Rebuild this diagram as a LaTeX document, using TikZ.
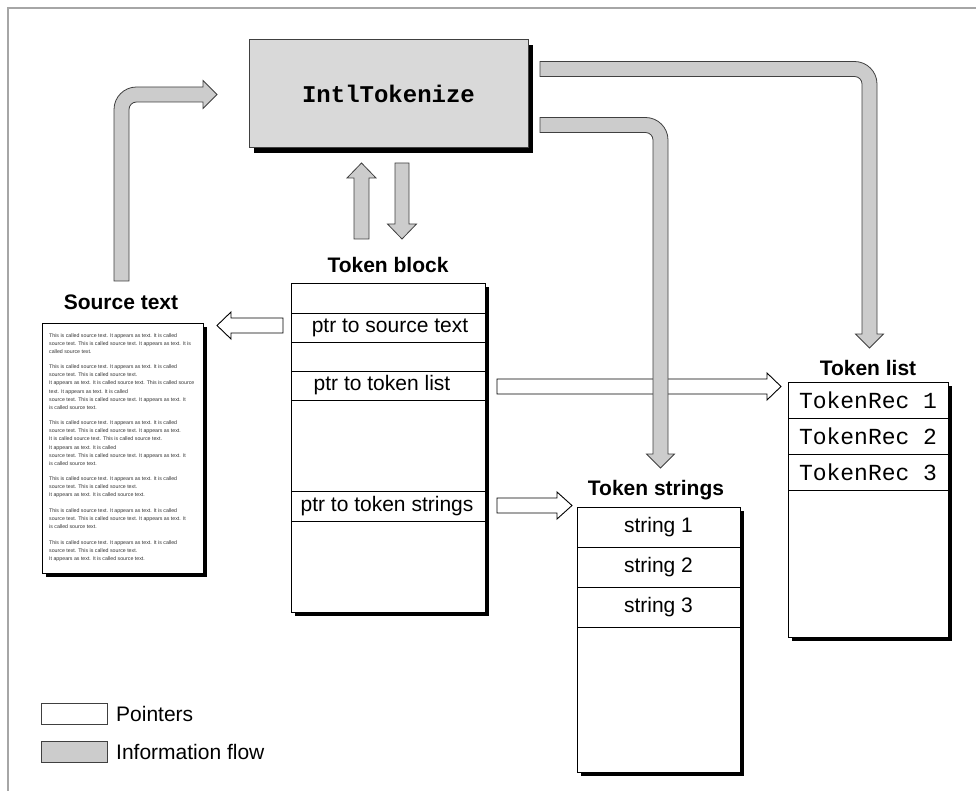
\documentclass[tikz,border=0pt]{standalone}
\usepackage{fontspec}
\setmainfont{Liberation Sans}
\newfontfamily\monofont{Liberation Mono}
\definecolor{flow}{HTML}{CCCCCC}
\definecolor{boxgray}{HTML}{D9D9D9}
\definecolor{edge}{HTML}{404040}
\begin{document}
\begin{tikzpicture}[x=1pt,y=-1pt,
  lbl/.style={font=\fontsize{21}{25}\selectfont\bfseries, inner sep=0},
  rowtxt/.style={font=\fontsize{21}{25}\selectfont, inner sep=0},
  mrow/.style={font=\fontsize{23}{27}\selectfont\monofont, inner sep=0},
  ptr/.style={fill=white, draw=black, line width=0.9pt, line join=miter},
  flowarrow/.style={fill=flow, draw=edge, line width=0.8pt, line join=miter},
  boxline/.style={draw=black, line width=0.9pt},
  shadowfill/.style={fill=black}]
\useasboundingbox (0,0) rectangle (976,791);
\fill[white] (0,0) rectangle (976,791);
% frame
\draw[gray!70, line width=1.5pt] (8,791) -- (8,8) -- (976,8);

% IntlTokenize
\fill[shadowfill] (254,45) rectangle (533,153);
\filldraw[fill=boxgray, draw=edge, line width=1pt] (249,40) rectangle (528,148);
\node[font=\fontsize{24}{28}\selectfont\monofont\bfseries, inner sep=0] (intl) at (388.5,94) {IntlTokenize};

% Source text
\node[lbl] (srclbl) at (121,302) {Source text};
\fill[shadowfill] (46,327) rectangle (207,577);
\filldraw[fill=white, boxline] (42,323) rectangle (203,573);
\node[anchor=north west, inner sep=0, align=left, font=\fontsize{5.25}{8.1}\selectfont, text=black!80] (srctxt) at (49,333)
{This is called source text. It appears as text. It is called\\
source text. This is called source text. It appears as text. It is\\
called source text.\\[7.4pt]
This is called source text. It appears as text. It is called\\
source text. This is called source text.\\
It appears as text. It is called source text. This is called source\\
text. It appears as text. It is called\\
source text. This is called source text. It appears as text. It\\
is called source text.\\[7.4pt]
This is called source text. It appears as text. It is called\\
source text. This is called source text. It appears as text.\\
It is called source text. This is called source text.\\
It appears as text. It is called\\
source text. This is called source text. It appears as text. It\\
is called source text.\\[7.4pt]
This is called source text. It appears as text. It is called\\
source text. This is called source text.\\
It appears as text. It is called source text.\\[7.4pt]
This is called source text. It appears as text. It is called\\
source text. This is called source text. It appears as text. It\\
is called source text.\\[7.4pt]
This is called source text. It appears as text. It is called\\
source text. This is called source text.\\
It appears as text. It is called source text.};

% Token block
\node[lbl] (tblbl) at (388,265) {Token block};
\fill[shadowfill] (295,287) rectangle (489,616);
\filldraw[fill=white, boxline] (291,283) rectangle (485,612);
\foreach \yy in {313,342,371,400,491,521} \draw[boxline] (291,\yy) -- (485,\yy);
\node[rowtxt] (p1) at (390,327.5) {ptr to source text};
\node[rowtxt] (p2) at (382,385.5) {ptr to token list};
\node[rowtxt] (p3) at (387,506) {ptr to token strings};

% Token strings
\node[lbl] (tslbl) at (656,490) {Token strings};
\fill[shadowfill] (581,511) rectangle (744,776);
\filldraw[fill=white, boxline] (577,507) rectangle (740,772);
\foreach \yy in {547,587,627} \draw[boxline] (577,\yy) -- (740,\yy);
\node[rowtxt] (s1) at (658.5,527) {string 1};
\node[rowtxt] (s2) at (658.5,567) {string 2};
\node[rowtxt] (s3) at (658.5,607) {string 3};

% Token list
\node[lbl] (tllbl) at (868,368) {Token list};
\fill[shadowfill] (792,386) rectangle (952,641);
\filldraw[fill=white, boxline] (788,382) rectangle (948,637);
\foreach \yy in {418,454,490} \draw[boxline] (788,\yy) -- (948,\yy);
\node[mrow] (t1) at (868,400) {TokenRec 1};
\node[mrow] (t2) at (868,436) {TokenRec 2};
\node[mrow] (t3) at (868,472) {TokenRec 3};

% pointer arrows (white)
\draw[ptr] (283,318) -- (231,318) -- (231,312) -- (217,325.5) -- (231,339) -- (231,333) -- (283,333) -- cycle;
\draw[ptr] (497,379) -- (767,379) -- (767,373) -- (781,386.5) -- (767,400) -- (767,394) -- (497,394) -- cycle;
\draw[ptr] (497,498) -- (557,498) -- (557,492) -- (572,505.5) -- (557,519) -- (557,513) -- (497,513) -- cycle;

% information flow arrows (gray)
% A: source text -> IntlTokenize
\draw[flowarrow] (114,281) -- (114,109.5) .. controls (114,97.07) and (124.07,87) .. (136.5,87)
  -- (203,87) -- (203,80.5) -- (217,94.5) -- (203,108.5) -- (203,102) -- (136.5,102)
  .. controls (132.36,102) and (129,105.36) .. (129,109.5) -- (129,281) -- cycle;
% B: IntlTokenize -> Token list
\draw[flowarrow] (540,61.5) -- (854.5,61.5) .. controls (866.93,61.5) and (877,71.57) .. (877,84)
  -- (877,334) -- (883.5,334) -- (869.5,348) -- (855.5,334) -- (862,334) -- (862,84)
  .. controls (862,79.86) and (858.64,76.5) .. (854.5,76.5) -- (540,76.5) -- cycle;
% C: IntlTokenize -> Token strings
\draw[flowarrow] (540,117.5) -- (645.5,117.5) .. controls (657.93,117.5) and (668,127.57) .. (668,140)
  -- (668,454) -- (674.5,454) -- (660.5,468) -- (646.5,454) -- (653,454) -- (653,140)
  .. controls (653,135.86) and (649.64,132.5) .. (645.5,132.5) -- (540,132.5) -- cycle;
% D: Token block -> IntlTokenize (up)
\draw[flowarrow] (354,239) -- (354,178) -- (347,178) -- (361.5,163) -- (376,178) -- (369,178) -- (369,239) -- cycle;
% E: IntlTokenize -> Token block (down)
\draw[flowarrow] (395,163) -- (409,163) -- (409,224) -- (416.5,224) -- (402,239) -- (387.5,224) -- (395,224) -- cycle;

% legend
\filldraw[fill=white, draw=edge, line width=0.9pt] (41,703) rectangle (107,724);
\node[rowtxt, anchor=west] (lp) at (116,714) {Pointers};
\filldraw[fill=flow, draw=edge, line width=0.9pt] (41,741) rectangle (107,762);
\node[rowtxt, anchor=west] (lf) at (116,752) {Information flow};
\end{tikzpicture}
\end{document}
